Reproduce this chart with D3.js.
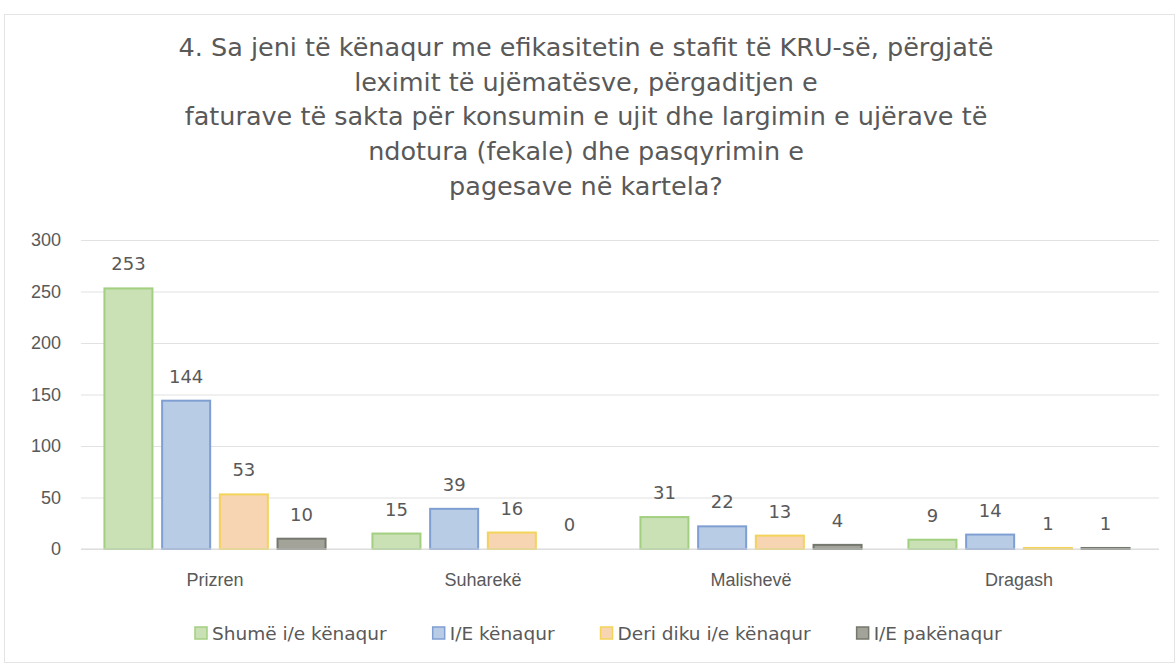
<!DOCTYPE html>
<html><head><meta charset="utf-8">
<script src="https://cdn.jsdelivr.net/npm/d3@7"></script>
<style>
body{margin:0;background:#fff;}
svg{display:block;font-family:"DejaVu Sans","Liberation Sans",sans-serif;}
</style></head>
<body>
<svg id="c" width="1176" height="664"></svg>
<script>
const titleLines = [
  "4. Sa jeni të kënaqur me efikasitetin e stafit të KRU-së, përgjatë",
  "leximit të ujëmatësve, përgaditjen e",
  "faturave të sakta për konsumin e ujit dhe largimin e ujërave të",
  "ndotura (fekale) dhe pasqyrimin e",
  "pagesave në kartela?"
];
const categories = ["Prizren", "Suharekë", "Malishevë", "Dragash"];
const seriesNames = ["Shumë i/e kënaqur", "I/E kënaqur", "Deri diku i/e kënaqur", "I/E pakënaqur"];
const shumeKenaqur = [253, 15, 31, 9];
const kenaqur = [144, 39, 22, 14];
const deriDiku = [53, 16, 13, 1];
const pakenaqur = [10, 0, 4, 1];
const yTicks = [0, 50, 100, 150, 200, 250, 300];

const seriesValues = [shumeKenaqur, kenaqur, deriDiku, pakenaqur];
const fills = ["#c9e1b4", "#b9cce6", "#f7d5b2", "#a3a39a"];
const strokes = ["#a2cf80", "#7f9fd2", "#f3d35a", "#75786e"];

const svg = d3.select("#c");
svg.append("rect").attr("x",4.5).attr("y",14.5).attr("width",1170).attr("height",648)
  .attr("fill","#fff").attr("stroke","#e4e4e4");

const tg = svg.append("text").attr("text-anchor","middle").attr("fill","#595959")
  .attr("font-size",25.5);
titleLines.forEach((t,i)=>{
  tg.append("tspan").attr("x",586).attr("y",56+i*34.7).text(t);
});

const margin = {left:81, right:1153, top:240, bottom:549};
const x0 = d3.scaleBand().domain(categories).range([margin.left, margin.right]).paddingInner(0).paddingOuter(0);
const x1 = d3.scaleBand().domain(d3.range(4)).range([0, x0.bandwidth()]).paddingInner(0.168).paddingOuter(0.406);
const y = d3.scaleLinear().domain([0,300]).range([margin.bottom, margin.top]);

const yAxis = d3.axisLeft(y).tickValues(yTicks).tickSize(-(margin.right-margin.left+6));
const ga = svg.append("g").attr("transform",`translate(${margin.left},0)`).call(yAxis);
ga.select(".domain").remove();
ga.selectAll(".tick line").attr("stroke","#e2e2e2").attr("stroke-width",1.2);
ga.selectAll(".tick text").attr("fill","#595959").attr("font-size",18).attr("x",-20).attr("text-anchor","end");

const g = svg.append("g");
categories.forEach((c,ci)=>{
  seriesValues.forEach((vals,si)=>{
    const v = vals[ci];
    const bx = x0(c)+x1(si);
    const bw = x1.bandwidth();
    if (v>0) {
      g.append("rect").attr("x",bx).attr("y",y(v)).attr("width",bw).attr("height",y(0)-y(v))
        .attr("fill",fills[si]).attr("stroke",strokes[si]).attr("stroke-width",2);
    }
    g.append("text").attr("x",bx+bw/2).attr("y",y(v)-18).attr("text-anchor","middle")
      .attr("fill","#595959").attr("font-size",18).text(v);
  });
});
svg.append("line").attr("x1",margin.left).attr("x2",margin.right+6).attr("y1",y(0)).attr("y2",y(0))
  .attr("stroke","#d9d9d9").attr("stroke-width",1.2);

const xAxis = d3.axisBottom(x0).tickSize(0).tickPadding(24);
const gx = svg.append("g").attr("transform",`translate(0,${margin.bottom})`).call(xAxis);
gx.select(".domain").remove();
gx.selectAll(".tick text").attr("fill","#595959").attr("font-size",18);

const lg = svg.append("g");
let lx = 195;
seriesNames.forEach((n,i)=>{
  lg.append("rect").attr("x",lx).attr("y",627).attr("width",12).attr("height",12)
    .attr("fill",fills[i]).attr("stroke",strokes[i]).attr("stroke-width",1.5);
  const t = lg.append("text").attr("x",lx+17).attr("y",640).attr("fill","#595959")
    .attr("font-size",18.5).text(n);
  lx += 17 + t.node().getComputedTextLength() + 46;
});
</script>
</body></html>
